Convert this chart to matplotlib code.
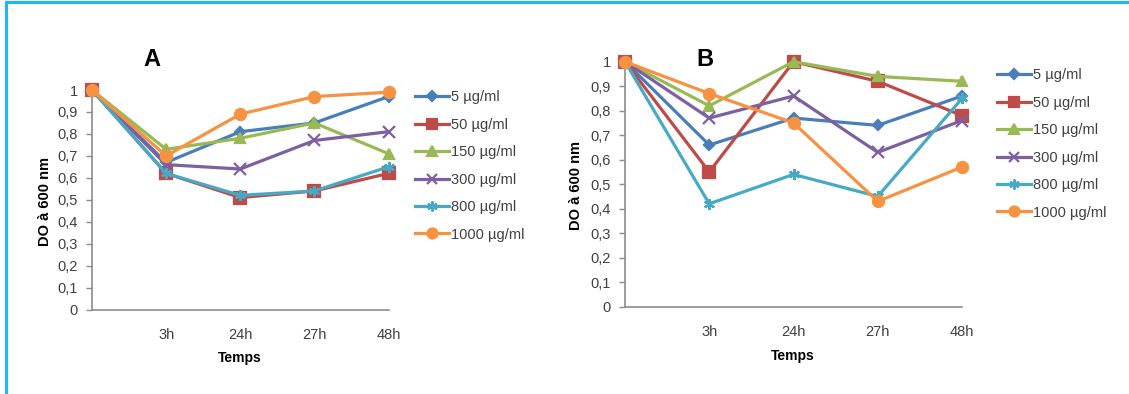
import matplotlib
matplotlib.use("Agg")
import matplotlib.pyplot as plt
from matplotlib.lines import Line2D

plt.rcParams['font.family'] = ['Liberation Sans', 'DejaVu Sans']

# ---------------- data ----------------
time_labels = ['', '3h', '24h', '27h', '48h']
series_names = ['5 µg/ml', '50 µg/ml', '150 µg/ml', '300 µg/ml', '800 µg/ml', '1000 µg/ml']
y_ticks = [0, 0.1, 0.2, 0.3, 0.4, 0.5, 0.6, 0.7, 0.8, 0.9, 1]
y_tick_labels = ['0', '0,1', '0,2', '0,3', '0,4', '0,5', '0,6', '0,7', '0,8', '0,9', '1']

# panel A
a_5 = [1.00, 0.67, 0.81, 0.85, 0.97]
a_50 = [1.00, 0.62, 0.51, 0.54, 0.62]
a_150 = [1.00, 0.73, 0.78, 0.85, 0.71]
a_300 = [1.00, 0.66, 0.64, 0.77, 0.81]
a_800 = [1.00, 0.62, 0.52, 0.54, 0.65]
a_1000 = [1.00, 0.70, 0.89, 0.97, 0.99]

# panel B
b_5 = [1.00, 0.66, 0.77, 0.74, 0.86]
b_50 = [1.00, 0.55, 1.00, 0.92, 0.78]
b_150 = [1.00, 0.82, 1.00, 0.94, 0.92]
b_300 = [1.00, 0.77, 0.86, 0.63, 0.76]
b_800 = [1.00, 0.42, 0.54, 0.45, 0.85]
b_1000 = [1.00, 0.87, 0.75, 0.43, 0.57]

# ---------------- styles ----------------
colors = ['#4A7EBB', '#BE4B48', '#98B954', '#7D60A0', '#46AAC5', '#F69240']
markers = ['D', 's', '^', 'x', (6, 2, 0), 'o']
msizes = [5.5, 8, 7.5, 8, 8, 8]
axis_grey = '#8C8C8C'
text_grey = '#404040'


def draw_panel(ax, data, title, title_xy, legend_xy):
    x = range(len(time_labels))
    for vals, name, c, m, ms in zip(data, series_names, colors, markers, msizes):
        ax.plot(x, vals, color=c, lw=2.3, marker=m, ms=ms, mfc=c, mec=c,
                mew=1.6, label=name, clip_on=False, zorder=3)
    ax.set_xlim(0, len(time_labels) - 1)
    ax.set_ylim(0, 1)
    ax.set_xticks(list(x))
    ax.set_xticklabels(time_labels, fontsize=10.5, color=text_grey)
    ax.set_yticks(y_ticks)
    ax.set_yticklabels(y_tick_labels, fontsize=10.5, color=text_grey)
    ax.tick_params(axis='x', length=0, pad=13)
    ax.tick_params(axis='y', length=4, width=1, color=axis_grey, pad=6)
    for s in ['top', 'right']:
        ax.spines[s].set_visible(False)
    for s in ['left', 'bottom']:
        ax.spines[s].set_color(axis_grey)
        ax.spines[s].set_linewidth(1.2)
    leg = ax.legend(loc='upper left', bbox_to_anchor=legend_xy,
                    bbox_transform=fig.transFigure, frameon=False,
                    fontsize=10.5, handlelength=2.3, handletextpad=0.15,
                    labelspacing=0.92, borderpad=0, borderaxespad=0,
                    markerscale=0.9)
    for t in leg.get_texts():
        t.set_color(text_grey)
    fig.text(title_xy[0], title_xy[1], title, fontsize=17, fontweight='bold',
             ha='center', va='center')


fig = plt.figure(figsize=(11.29, 3.94), dpi=100)
W, H = 1129, 394

axA = fig.add_axes([92 / W, 1 - 309.5 / H, 296.5 / W, 219.5 / H])
axB = fig.add_axes([625 / W, 1 - 306.7 / H, 337 / W, 245 / H])

draw_panel(axA, [a_5, a_50, a_150, a_300, a_800, a_1000], 'A',
           (152 / W, 1 - 60 / H), (415 / W, 1 - 90.5 / H))
draw_panel(axB, [b_5, b_50, b_150, b_300, b_800, b_1000], 'B',
           (705 / W, 1 - 60 / H), (997 / W, 1 - 68.5 / H))

# axis titles
fig.text(240 / W, 1 - 358 / H, 'Temps', fontsize=10, fontweight='bold',
         ha='center', va='center')
fig.text(793 / W, 1 - 356 / H, 'Temps', fontsize=10, fontweight='bold',
         ha='center', va='center')
fig.text(45 / W, 1 - 201 / H, 'DO à 600 nm', fontsize=10.5, fontweight='bold',
         rotation=90, ha='center', va='center')
fig.text(576 / W, 1 - 185 / H, 'DO à 600 nm', fontsize=10.5, fontweight='bold',
         rotation=90, ha='center', va='center')

# frame lines (top and left) around the figure
frame_c = '#1FB8F0'
fig.add_artist(Line2D([6 / W, 1], [1 - 1.5 / H, 1 - 1.5 / H], color=frame_c,
                      lw=2.2, transform=fig.transFigure))
fig.add_artist(Line2D([6 / W, 6 / W], [0, 1 - 1.5 / H], color=frame_c,
                      lw=2.2, transform=fig.transFigure))

fig.savefig('out.png', dpi=100)
